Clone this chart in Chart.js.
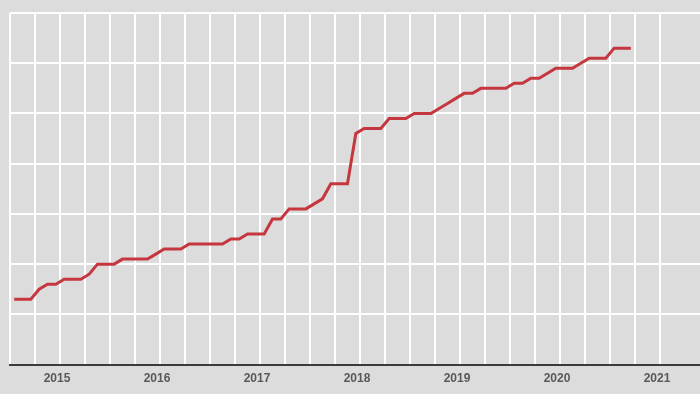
<!DOCTYPE html>
<html>
<head>
<meta charset="utf-8">
<script src="https://cdn.jsdelivr.net/npm/chart.js@4"></script>
<style>
  html, body { margin: 0; padding: 0; background: #dcdcdc; }
  #wrap { width: 700px; height: 394px; }
</style>
</head>
<body>
<div id="wrap"><canvas id="rateChart"></canvas></div>
<script>
// monthly values, Jan 2015 .. Mar 2021
const startYear = 2015;
const values = [
  1.3, 1.3, 1.3, 1.5, 1.6, 1.6, 1.7, 1.7, 1.7, 1.8, 2.0, 2.0,
  2.0, 2.1, 2.1, 2.1, 2.1, 2.2, 2.3, 2.3, 2.3, 2.4, 2.4, 2.4,
  2.4, 2.4, 2.5, 2.5, 2.6, 2.6, 2.6, 2.9, 2.9, 3.1, 3.1, 3.1,
  3.2, 3.3, 3.6, 3.6, 3.6, 4.6, 4.7, 4.7, 4.7, 4.9, 4.9, 4.9,
  5.0, 5.0, 5.0, 5.1, 5.2, 5.3, 5.4, 5.4, 5.5, 5.5, 5.5, 5.5,
  5.6, 5.6, 5.7, 5.7, 5.8, 5.9, 5.9, 5.9, 6.0, 6.1, 6.1, 6.1,
  6.3, 6.3, 6.3
];
const yearLabels = ['2015', '2016', '2017', '2018', '2019', '2020', '2021'];

// month index -> point in the middle of that month
const points = values.map((v, i) => ({ x: i + 0.5, y: v }));

const ctx = document.getElementById('rateChart').getContext('2d');
const rateChart = new Chart(ctx, {
  type: 'line',
  data: {
    datasets: [{
      data: points,
      borderColor: '#c5363f',
      borderWidth: 3,
      pointRadius: 0,
      tension: 0,
      fill: false
    }]
  },
  options: {
    responsive: true,
    maintainAspectRatio: false,
    animation: false,
    layout: { padding: { left: 10, top: 13, right: 0, bottom: 1 } },
    plugins: { legend: { display: false }, tooltip: { enabled: false } },
    scales: {
      x: {
        type: 'linear',
        min: 0,
        max: 82.8,
        afterBuildTicks: axis => {
          axis.ticks = axis.ticks.filter(t => t.value % 3 === 0);
        },
        ticks: {
          stepSize: 3,
          autoSkip: false,
          maxRotation: 0,
          padding: 7,
          labelOffset: -3,
          color: '#595959',
          font: { family: 'Liberation Sans', size: 12, weight: 'bold' },
          callback: v => (v % 12 === 6 ? yearLabels[(v - 6) / 12] : '')
        },
        grid: { color: '#ffffff', lineWidth: 2, drawTicks: false },
        border: { display: true, color: '#3a3a3a', width: 2 }
      },
      y: {
        min: 0,
        max: 7,
        ticks: { display: false, stepSize: 1 },
        grid: { color: '#ffffff', lineWidth: 2, drawTicks: false },
        border: { display: false }
      }
    }
  }
});
</script>
</body>
</html>
